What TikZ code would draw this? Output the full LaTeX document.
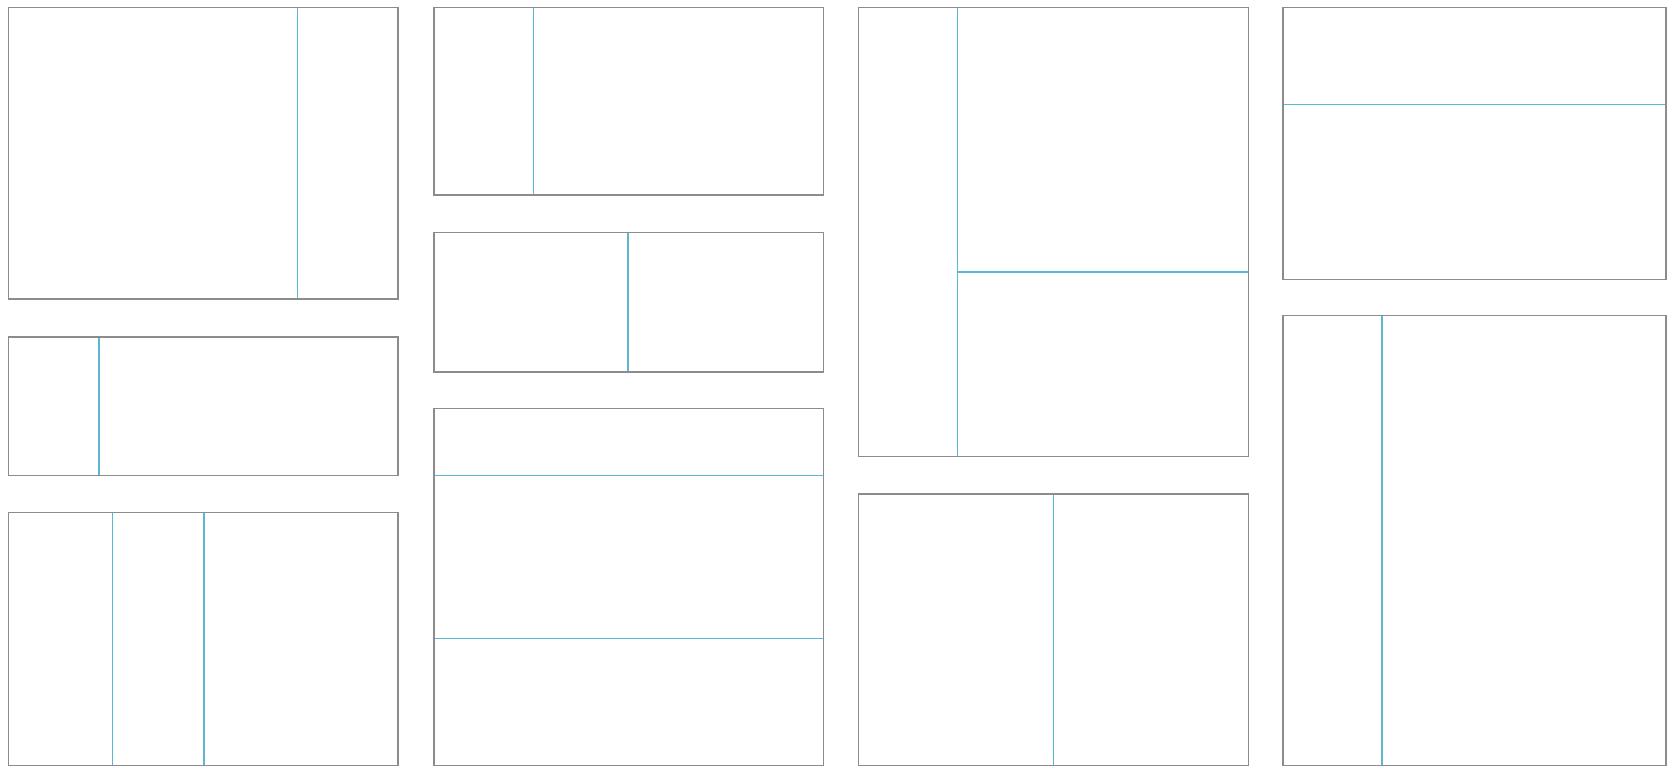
\documentclass[tikz,border=0pt]{standalone}
\definecolor{framegray}{HTML}{8C8C8C}
\definecolor{divblue}{HTML}{5BB8D2}
\begin{document}
\begin{tikzpicture}[x=1pt,y=-1pt,
  panel/.style={draw=framegray,line width=1.5pt},
  divider/.style={draw=divblue,line width=1.6pt}]
\useasboundingbox[fill=white] (0,0) rectangle (1672,768);
% column 1
\draw[divider] (297.5,7.5) -- (297.5,299);
\draw[panel] (8.5,7.5) rectangle (398,299);
\draw[divider] (99,337) -- (99,475.5);
\draw[panel] (8.5,337) rectangle (398,475.5);
\draw[divider] (112.5,512.5) -- (112.5,765.5);
\draw[divider] (204,512.5) -- (204,765.5);
\draw[panel] (8.5,512.5) rectangle (398,765.5);
% column 2
\draw[divider] (533.5,7.5) -- (533.5,195);
\draw[panel] (434,7.5) rectangle (823.5,195);
\draw[divider] (628,232.5) -- (628,372);
\draw[panel] (434,232.5) rectangle (823.5,372);
\draw[divider] (434,475.5) -- (823.5,475.5);
\draw[divider] (434,638.5) -- (823.5,638.5);
\draw[panel] (434,408.5) rectangle (823.5,765.5);
% column 3
\draw[divider] (957.5,7.5) -- (957.5,456.5);
\draw[divider] (957.5,272) -- (1248.5,272);
\draw[panel] (858.5,7.5) rectangle (1248.5,456.5);
\draw[divider] (1053.5,494) -- (1053.5,765.5);
\draw[panel] (858.5,494) rectangle (1248.5,765.5);
% column 4
\draw[divider] (1283,104.5) -- (1666,104.5);
\draw[panel] (1283,7.5) rectangle (1666,279.5);
\draw[divider] (1382,315.5) -- (1382,765.5);
\draw[panel] (1283,315.5) rectangle (1666,765.5);
\end{tikzpicture}
\end{document}
